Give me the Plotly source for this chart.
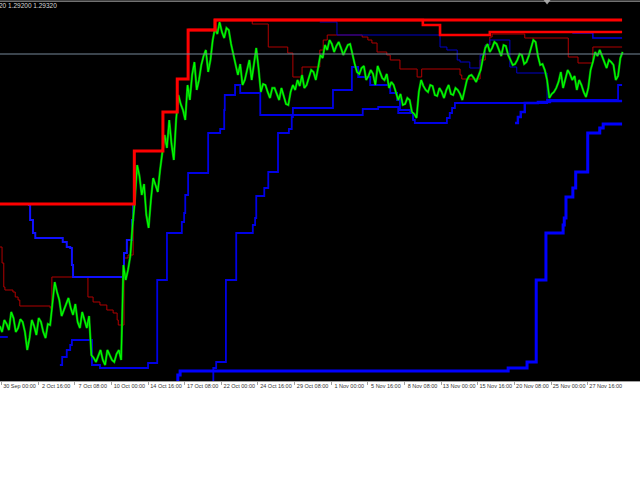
import plotly.graph_objects as go

# ---------------- data ----------------
# Close price (H1 bars), one value every 4 bars starting at bar -3
close_start_bar = -3
close_step = 4
close_prices = [
    1.2245, 1.2230, 1.2260, 1.2250, 1.2235, 1.2280, 1.2265, 1.2230, 1.2240, 1.2262,
    1.2255, 1.2230, 1.2185, 1.2215, 1.2260, 1.2245, 1.22225, 1.2265, 1.2255, 1.2230,
    1.2215, 1.2250, 1.22475, 1.2300, 1.2355, 1.2330, 1.2310, 1.2270, 1.2285, 1.2300,
    1.2315, 1.2290, 1.22725, 1.2300, 1.2255, 1.2240, 1.2280, 1.2260, 1.2240, 1.2270,
    1.21725, 1.2165, 1.2155, 1.2170, 1.2185, 1.2160, 1.21475, 1.2185, 1.2170, 1.2160,
    1.2155, 1.2175, 1.2185, 1.2160, 1.23975, 1.2360, 1.2385, 1.2420, 1.24975, 1.2560,
    1.26475, 1.2620, 1.25725, 1.2600, 1.25225, 1.2490, 1.2560, 1.2615, 1.25975, 1.2580,
    1.2635, 1.2680, 1.27225, 1.2690, 1.2760, 1.2700, 1.2660, 1.2760, 1.28225, 1.2800,
    1.2785, 1.2760, 1.28475, 1.2810, 1.28725, 1.2905, 1.2835, 1.2860, 1.28975, 1.2920,
    1.2935, 1.2880, 1.2910, 1.2960, 1.2990, 1.2975, 1.3005, 1.2980, 1.2965, 1.2990,
    1.2985, 1.2950, 1.29225, 1.2895, 1.28725, 1.2900, 1.28475, 1.2860, 1.2885, 1.2910,
    1.2860, 1.2895, 1.2940, 1.2890, 1.2830, 1.2850, 1.28475, 1.2830, 1.2815, 1.2840,
    1.2840, 1.2825, 1.2810, 1.2840, 1.28225, 1.2800, 1.27975, 1.2830, 1.28475, 1.2835,
    1.2860, 1.2845, 1.28725, 1.2840, 1.28475, 1.2870, 1.2885, 1.2880, 1.2860, 1.2890,
    1.29225, 1.2915, 1.29475, 1.2935, 1.2960, 1.2950, 1.2930, 1.2945, 1.2955, 1.2940,
    1.29225, 1.2935, 1.29475, 1.2950, 1.29225, 1.2900, 1.2880, 1.2875, 1.2890, 1.2895,
    1.2860, 1.2870, 1.2885, 1.2875, 1.28475, 1.2895, 1.2880, 1.2865, 1.2860, 1.2875,
    1.2840, 1.2855, 1.28475, 1.2830, 1.2810, 1.2825, 1.27975, 1.2800, 1.2815, 1.2810,
    1.2780, 1.2775, 1.2765, 1.2830, 1.2860, 1.2845, 1.2835, 1.2830, 1.28475, 1.2845,
    1.28225, 1.2820, 1.2840, 1.2830, 1.2815, 1.2835, 1.28475, 1.2825, 1.28225, 1.2840,
    1.2835, 1.2825, 1.2810, 1.2835, 1.2860, 1.2870, 1.28725, 1.2865, 1.2855, 1.2870,
    1.2885, 1.2915, 1.2940, 1.2950, 1.2930, 1.2940, 1.2955, 1.2950, 1.2935, 1.2920,
    1.29475, 1.2945, 1.29225, 1.2910, 1.28975, 1.2900, 1.2910, 1.2925, 1.29225, 1.2900,
    1.2905, 1.2920, 1.2940, 1.2960, 1.2955, 1.2920, 1.28975, 1.2900, 1.2885, 1.2860,
    1.2815, 1.2825, 1.2830, 1.2840, 1.2855, 1.2880, 1.2840, 1.2865, 1.2885, 1.2875,
    1.2860, 1.2870, 1.2835, 1.2860, 1.28475, 1.2830, 1.28175, 1.2840, 1.2885, 1.2905,
    1.2930, 1.2920, 1.2935, 1.2920, 1.2905, 1.2890, 1.2910, 1.2905, 1.28975, 1.2860,
    1.2870, 1.2915, 1.2930,
]

# Upper channel lines (step change points: bar, price)
red_long_bars = [-3, 232, 282, 307, 326, 373, 1084]
red_long_vals = [1.2550, 1.26825, 1.2780, 1.28625, 1.2985, 1.3010, 1.3010]

red_mid_bars = [326, 373, 736, 766, 853, 1084]
red_mid_vals = [1.2985, 1.3010, 1.29975, 1.29725, 1.2980, 1.2980]

red_thin_bars = [-3, 1, 4, 6, 20, 24, 29, 32, 85, 88, 151, 160, 172, 184, 195, 202, 204,
                 214, 221, 230, 232, 282, 307, 326, 373, 438, 466, 500, 509, 525, 556,
                 562, 569, 630, 640, 647, 656, 673, 679, 696, 726, 734, 801, 804, 836,
                 845, 853, 857, 914, 990, 1007, 1033, 1084]
red_thin_vals = [1.24425, 1.24025, 1.23425, 1.2335, 1.2330, 1.23175, 1.2310, 1.2295,
                 1.2290, 1.23675, 1.23175, 1.2305, 1.22975, 1.2285, 1.22775, 1.2260,
                 1.22475, 1.2415, 1.24225, 1.2550, 1.26825, 1.2780, 1.28625, 1.2985,
                 1.3010, 1.3000, 1.29425, 1.29275, 1.28675, 1.28925, 1.2935, 1.2960,
                 1.29725, 1.29675, 1.2960, 1.29525, 1.2930, 1.29225, 1.2910, 1.28875,
                 1.28675, 1.28875, 1.28725, 1.28625, 1.2910, 1.29475, 1.29675, 1.2975,
                 1.2965, 1.29175, 1.29025, 1.29425, 1.29425]

# Lower channel lines
blue_long_bars = [305, 308, 312, 885, 918, 934, 951, 981, 983, 986, 998, 1003, 1024,
                  1045, 1051, 1084]
blue_long_vals = [1.20975, 1.21225, 1.21325, 1.2140, 1.2155, 1.2360, 1.24775, 1.24975,
                  1.2515, 1.25675, 1.2590, 1.2630, 1.27275, 1.2740, 1.2750, 1.2750]

blue_a_bars = [-3, 11, None, 102, 106, 114, 120, 123, 158, 172, 256, 272, 289, 315, 319, 321,
               326, 361, 382, 389, 390, 408, 417, 452, 631, 658, 693, 719, 722, 778,
               783, 787, 792, 953, 1077, 1084]
blue_a_vals = [1.22175, 1.22175, None, 1.21475, 1.21675, 1.2185, 1.21975, 1.2210, 1.21475,
               1.2140, 1.21525, 1.2360, 1.24775, 1.2505, 1.25275, 1.25725, 1.26275,
               1.27275, 1.27375, 1.2785, 1.28225, 1.28475, 1.28275, 1.27725, 1.27875,
               1.27925, 1.27775, 1.2760, 1.27525, 1.2765, 1.27775, 1.2790, 1.28025,
               1.2810, 1.28475, 1.28475]

blue_b_bars = [368, 370, 375, 392, 410, 439, 443, 445, 459, 466, 483, 502, 507, 509,
               579, 612, 623, 644, 679, 691, 696, 714, 719]
blue_b_vals = [1.20975, 1.2140, 1.2155, 1.2360, 1.24775, 1.24975, 1.2515, 1.2570,
               1.2590, 1.2630, 1.27275, 1.27375, 1.27675, 1.2790, 1.2835, 1.28925,
               1.28675, 1.28475, 1.28275, 1.2810, 1.2785, 1.27775, 1.2760]

blue_c_bars = [897, 902, 907, 914, 937, 958, 1084]
blue_c_vals = [1.27525, 1.27675, 1.2780, 1.28025, 1.2805, 1.28075, 1.28075]

blue_upper_bars = [46, 50, 55, 59, 107, 114, 120, 123, 125, 214, 219, 228, 230]
blue_upper_vals = [1.25475, 1.2510, 1.24775, 1.2465, 1.2455, 1.24425, 1.2440, 1.23975,
                   1.23675, 1.24275, 1.2460, 1.2510, 1.25475]

blue_top_bars = [556, 586, 766, 778, 796, 801, 818, 836, 845, 853, 888, 900, 953]
blue_top_vals = [1.30050, 1.29725, 1.29425, 1.2935, 1.2910, 1.2905, 1.2890, 1.29225,
                 1.29475, 1.2960, 1.28925, 1.28775, 1.2810]

blue_top2_bars = [997, 1033, 1084]
blue_top2_vals = [1.29775, 1.2965, 1.2965]

tick_bars = [0, 64, 128, 192, 256, 320, 384, 448, 512, 576, 640, 704, 768, 832, 896, 960, 1024]
tick_labels = ["30 Sep 00:00", "2 Oct 16:00", "7 Oct 08:00", "10 Oct 00:00", "14 Oct 16:00",
               "17 Oct 08:00", "22 Oct 00:00", "24 Oct 16:00", "29 Oct 08:00", "1 Nov 00:00",
               "5 Nov 16:00", "8 Nov 08:00", "13 Nov 00:00", "15 Nov 16:00", "20 Nov 08:00",
               "25 Nov 00:00", "27 Nov 16:00"]

bid_price = 1.2925
header_text = "20 1.29200 1.29320"
shift_marker_bar = 953

# ---------------- figure ----------------
fig = go.Figure()

def step(xs, ys, color, width):
    fig.add_trace(go.Scatter(x=xs, y=ys, mode="lines", line=dict(color=color, width=width, shape="hv"),
                             hoverinfo="skip", showlegend=False, connectgaps=False))

step(red_thin_bars, red_thin_vals, "#b00000", 1)
step(blue_top_bars, blue_top_vals, "#0000c8", 1)
step(blue_top2_bars, blue_top2_vals, "#0000e0", 1.5)
step(blue_upper_bars, blue_upper_vals, "#1010ff", 2)
step(blue_a_bars, blue_a_vals, "#0000e6", 1.8)
step(blue_b_bars, blue_b_vals, "#0000e6", 1.8)
step(blue_c_bars, blue_c_vals, "#0000f0", 2.4)
step(blue_long_bars, blue_long_vals, "#0000ff", 3)

close_bars = [close_start_bar + close_step * i for i in range(len(close_prices))]
fig.add_trace(go.Scatter(x=close_bars, y=close_prices, mode="lines",
                         line=dict(color="#009a00", width=2.3), hoverinfo="skip", showlegend=False))
fig.add_trace(go.Scatter(x=close_bars, y=close_prices, mode="lines",
                         line=dict(color="#00ff00", width=1.1), hoverinfo="skip", showlegend=False))

step(red_mid_bars, red_mid_vals, "#ff0000", 2.6)
step(red_long_bars, red_long_vals, "#ff0000", 3)

fig.add_trace(go.Scatter(x=[shift_marker_bar], y=[1.3056], mode="markers",
                         marker=dict(symbol="triangle-down", size=6, color="#a0a0a0"),
                         hoverinfo="skip", showlegend=False))

fig.add_shape(type="line", xref="paper", x0=0, x1=1, yref="y", y0=bid_price, y1=bid_price,
              line=dict(color="#778899", width=1))
fig.add_shape(type="line", xref="paper", x0=0, x1=1, yref="paper", y0=0.997, y1=0.997,
              line=dict(color="#b0b0b0", width=1))

fig.add_annotation(text=header_text, xref="paper", yref="paper", x=0, y=0.985,
                   xanchor="left", yanchor="middle", showarrow=False, xshift=-3,
                   font=dict(family="Liberation Sans", size=6.5, color="#d8d8d8"))

fig.update_layout(
    width=640, height=480,
    margin=dict(l=0, r=0, t=0, b=99),
    paper_bgcolor="white", plot_bgcolor="black",
    xaxis=dict(range=[-2.6, 1115.3], tickmode="array", tickvals=tick_bars, ticktext=tick_labels,
               ticks="outside", ticklen=3, tickcolor="#a0a0a0", showgrid=False, zeroline=False,
               showline=True, linecolor="#a0a0a0", linewidth=1,
               tickfont=dict(family="Liberation Sans", size=5.5, color="#333333"),
               ticklabelshift=18, ticklabelstandoff=-4),
    yaxis=dict(range=[1.21075, 1.3060], visible=False, showgrid=False, zeroline=False),
)

fig.write_html("out.html", config={"displayModeBar": False},
               post_script="document.body.style.margin='0';")
